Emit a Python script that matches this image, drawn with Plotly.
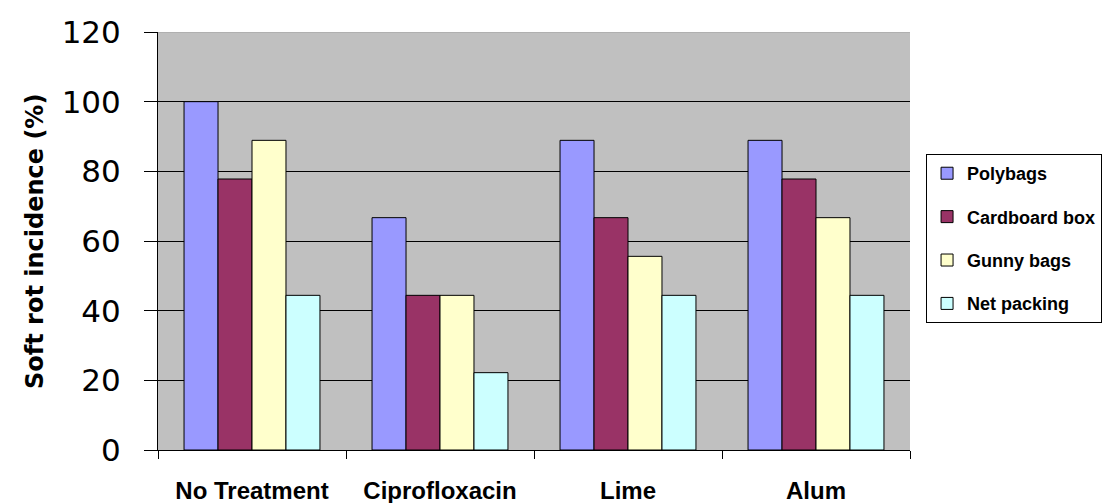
import plotly.graph_objects as go

categories = ["No Treatment", "Ciprofloxacin", "Lime", "Alum"]
polybags = [100, 66.7, 88.9, 88.9]
cardboard = [77.8, 44.4, 66.7, 77.8]
gunny = [88.9, 44.4, 55.6, 66.7]
net = [44.4, 22.2, 44.4, 44.4]
series_names = ["Polybags", "Cardboard box", "Gunny bags", "Net packing"]
colors = ["#9999FF", "#993366", "#FFFFCC", "#CCFFFF"]
y_ticks = [0, 20, 40, 60, 80, 100, 120]

fig = go.Figure()
for i, (name, vals, c) in enumerate(zip(series_names, [polybags, cardboard, gunny, net], colors)):
    fig.add_trace(go.Bar(x=categories, y=vals, name=f"<b>{name}</b>", legendgroup=f"g{i}",
                         marker=dict(color=c, line=dict(color="#000000", width=1))))

fig.update_layout(
    width=1114, height=503,
    margin=dict(l=150, r=212, t=24, b=61),
    paper_bgcolor="white", plot_bgcolor="#C0C0C0",
    barmode="group", bargap=0.277, bargroupgap=0,
    showlegend=True,
    legend=dict(xref="container", yref="container", x=0.8241, y=0.7097,
                xanchor="left", yanchor="top",
                bordercolor="#000000", borderwidth=1, bgcolor="white",
                font=dict(family="Liberation Sans", size=18, color="black"),
                itemwidth=30, tracegroupgap=17),
    font=dict(family="Liberation Sans, Arial", color="black"),
)
fig.update_yaxes(range=[0, 120], tickvals=y_ticks, showgrid=True, gridcolor="#000000", gridwidth=1,
                 showline=True, linecolor="#000000", linewidth=1,
                 ticks="outside", ticklen=13, tickcolor="#000000", automargin=False,
                 ticklabelstandoff=17,
                 tickfont=dict(family="DejaVu Sans, Liberation Sans", size=31, color="black"),
                 zeroline=False)
fig.update_xaxes(showline=True, linecolor="#000000", linewidth=1, ticks="outside", ticklen=8,
                 tickson="boundaries", tickcolor="#000000", automargin=False,
                 ticklabelstandoff=19,
                 tickfont=dict(family="Liberation Sans", size=24, color="black", weight="bold"),
                 range=[-0.5, 3.5])
fig.add_shape(type="line", xref="paper", yref="y", x0=0, x1=1, y0=120, y1=120,
              line=dict(color="#A0A0A0", width=1))
fig.add_annotation(text="<b>Soft rot incidence (%)</b>", xref="paper", yref="paper",
                   x=-0.1636, y=0.5, xanchor="center", yanchor="middle", textangle=-90,
                   showarrow=False, font=dict(family="DejaVu Sans, Verdana", size=24, color="black"))

fig.write_html("out.html")
